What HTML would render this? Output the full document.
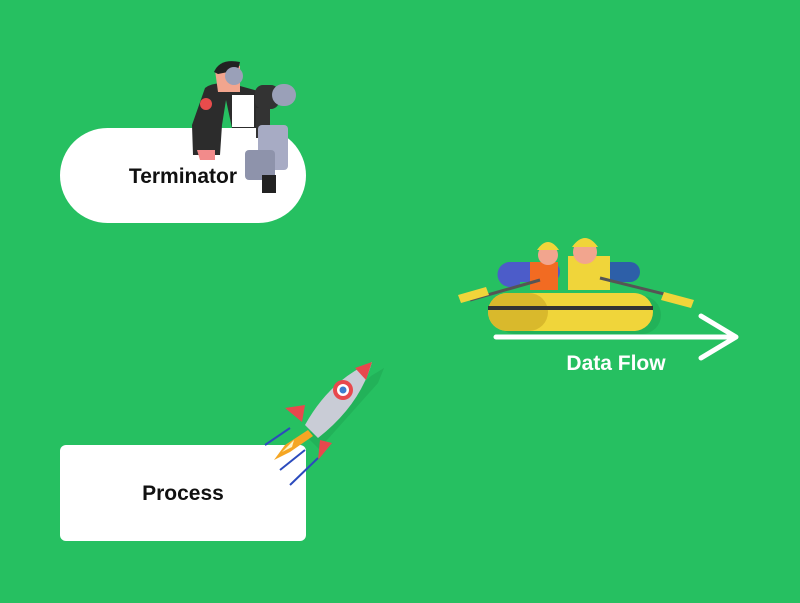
<!DOCTYPE html>
<html><head><meta charset="utf-8"><style>
html,body{margin:0;padding:0;background:#26c061;width:800px;height:603px;overflow:hidden}
text{font-family:"Liberation Sans",sans-serif;font-weight:bold}
</style></head><body>
<svg width="800" height="603" viewBox="0 0 800 603" xmlns="http://www.w3.org/2000/svg">
<rect width="800" height="603" fill="#26c061"/>
<rect x="60" y="128" width="246" height="95" rx="47.5" fill="#fff"/>
<g>
<path d="M205 88 Q215 80 240 86 L262 92 L262 128 L232 128 L226 100 L222 125 L220 155 L193 155 L192 125 Z" fill="#2c2c2c"/>
<rect x="232" y="95" width="22" height="32" fill="#fff"/>
<circle cx="206" cy="104" r="6" fill="#e84c4c"/>
<path d="M215 70 Q225 60 240 66 L240 92 L218 92 Z" fill="#f2a58e"/>
<path d="M214 72 Q220 58 240 62 L238 70 L218 74 Z" fill="#222"/>
<circle cx="234" cy="76" r="9" fill="#9aa0b8"/>
<path d="M197 150 h18 v10 h-15 z" fill="#f28b8b"/>
<rect x="255" y="85" width="24" height="24" rx="8" fill="#333"/>
<rect x="272" y="84" width="24" height="22" rx="11" fill="#9aa0b8"/>
<rect x="256" y="108" width="14" height="30" fill="#333"/>
<rect x="258" y="125" width="30" height="45" rx="4" fill="#a7abc4"/>
<rect x="245" y="150" width="30" height="30" rx="4" fill="#8e93ab"/>
<path d="M262 175 h14 v18 h-14 z" fill="#222"/>
</g>
<text x="183" y="183" font-size="21" text-anchor="middle" fill="#111">Terminator</text>
<rect x="60" y="445" width="246" height="96" rx="6" fill="#fff"/>
<text x="183" y="500" font-size="21" text-anchor="middle" fill="#111">Process</text>
<g>
<path d="M300 430 L365 370 L378 362 L372 377 L313 443 Z" fill="#1fa853" opacity="0.6" transform="translate(6,6)"/>
<path d="M305 425 Q330 380 372 362 Q360 405 318 438 Z" fill="#c9ccd6"/>
<path d="M355 368 L372 362 L366 380 Z" fill="#e8484d"/>
<circle cx="343" cy="390" r="10" fill="#e8484d"/><circle cx="343" cy="390" r="6" fill="#fff"/><circle cx="343" cy="390" r="3.5" fill="#3d7ccf"/>
<path d="M305 405 L285 408 L302 422 Z" fill="#e8484d"/>
<path d="M320 440 L318 460 L332 443 Z" fill="#e8484d"/>
<path d="M308 430 L285 445 L274 460 L290 452 L313 436 Z" fill="#f5a623"/>
<path d="M294 440 L282 452 L292 447 Z" fill="#fff3c4"/>
<path d="M265 445 L290 428 M280 470 L305 450 M290 485 L318 458" stroke="#2b4bbd" stroke-width="2"/>
</g>
<g>
<rect x="490" y="292" width="165" height="38" rx="19" fill="#1fa853" opacity="0.6" transform="translate(6,4)"/>
<path d="M510 262 h40 a10 10 0 0 1 0 20 h-30 v5 h-10 a12 12 0 0 1 0 -25z" fill="#4c5cc9"/>
<path d="M585 262 h45 a10 10 0 0 1 0 20 h-45 z" fill="#2d5fa8"/>
<rect x="530" y="262" width="28" height="28" fill="#f26b22"/>
<rect x="568" y="256" width="42" height="34" fill="#f0d53a"/>
<circle cx="548" cy="255" r="10" fill="#f2a58e"/><path d="M537 250 q11 -16 22 0 z" fill="#f0d53a"/>
<circle cx="585" cy="252" r="12" fill="#f2a58e"/><path d="M572 247 q13 -18 26 0 z" fill="#f0d53a"/>
<rect x="488" y="293" width="165" height="38" rx="19" fill="#f0d53a"/>
<rect x="488" y="293" width="60" height="38" rx="19" fill="#d9b92c"/>
<rect x="488" y="306" width="165" height="4" fill="#333"/>
<path d="M470 300 L540 280 M600 278 L680 298" stroke="#555" stroke-width="3"/>
<path d="M458 295 l28 -8 l3 8 l-28 8 z" fill="#f0d53a"/>
<path d="M664 292 l30 8 l-3 8 l-30 -8 z" fill="#f0d53a"/>
</g>
<path d="M496 337 H735 M701 316 L736 337 L701 358" stroke="#fff" stroke-width="5" fill="none" stroke-linecap="round" stroke-linejoin="round"/>
<text x="616" y="370" font-size="21" text-anchor="middle" fill="#fff">Data Flow</text>
</svg>
</body></html>
